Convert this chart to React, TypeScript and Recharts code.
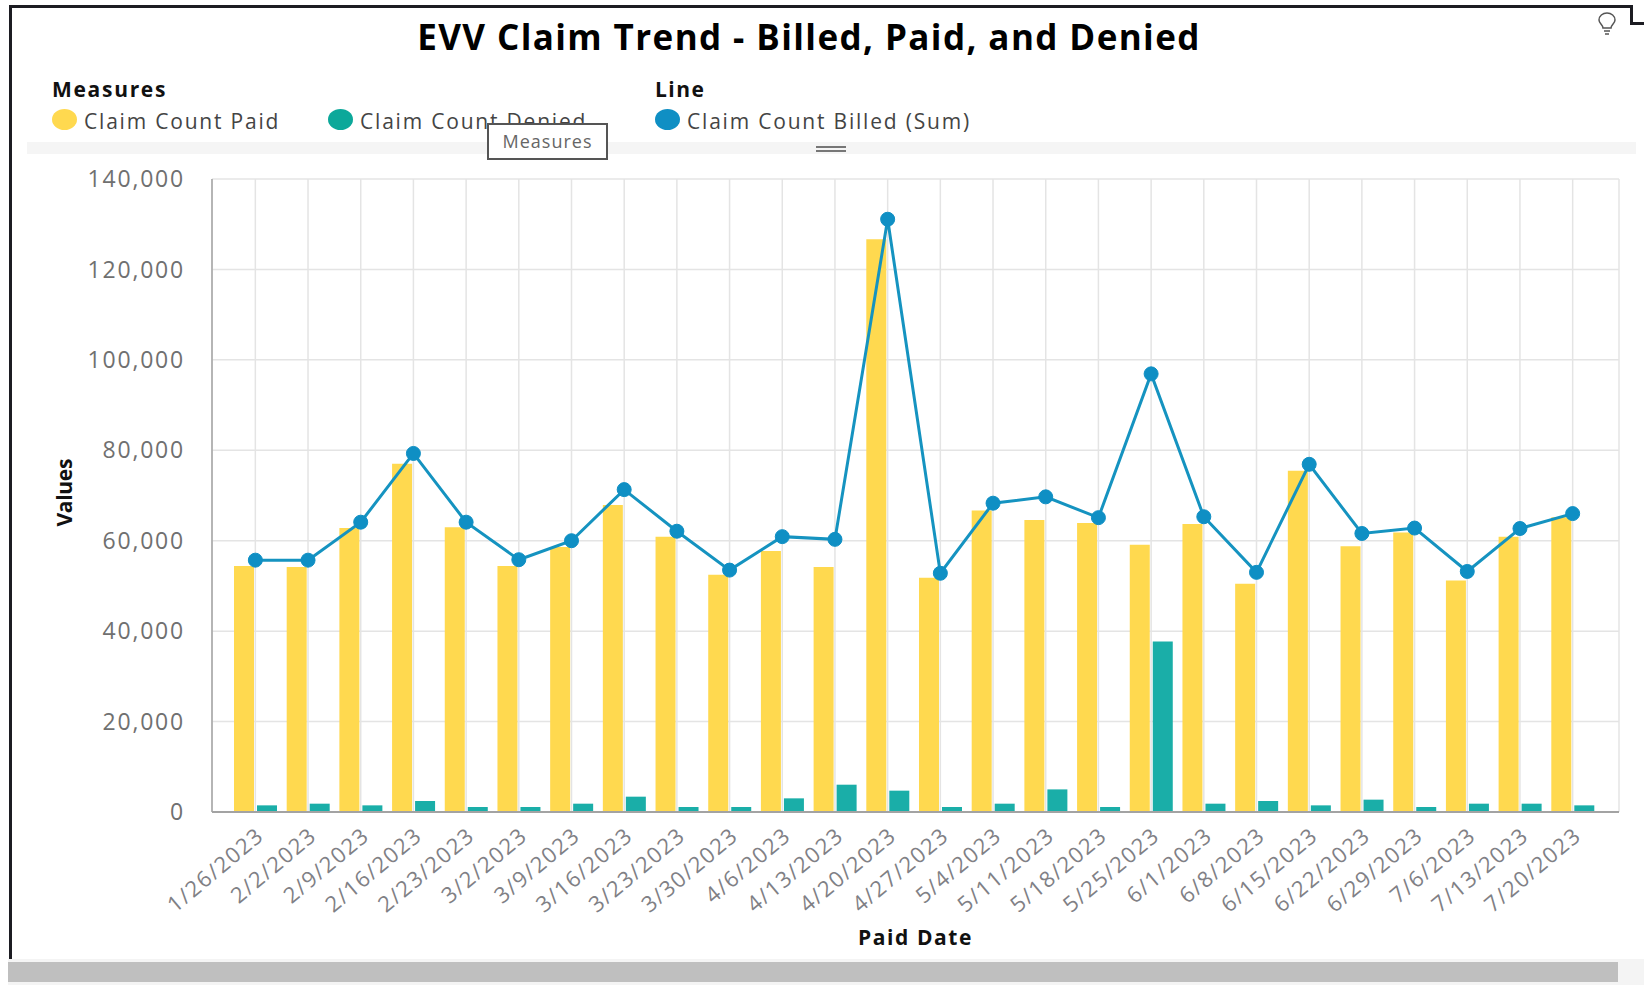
import { ComposedChart, Bar, Line, XAxis, YAxis, CartesianGrid } from 'recharts';

const dates = [
  '1/26/2023', '2/2/2023', '2/9/2023', '2/16/2023', '2/23/2023', '3/2/2023', '3/9/2023', '3/16/2023', '3/23/2023',
  '3/30/2023', '4/6/2023', '4/13/2023', '4/20/2023', '4/27/2023', '5/4/2023', '5/11/2023', '5/18/2023', '5/25/2023',
  '6/1/2023', '6/8/2023', '6/15/2023', '6/22/2023', '6/29/2023', '7/6/2023', '7/13/2023', '7/20/2023',
];
const paid = [
  54400, 54200, 62800, 77000, 63000, 54400, 58600, 67900, 60900, 52500, 57700, 54200, 126700, 51800, 66700, 64600,
  63900, 59100, 63700, 50500, 75500, 58800, 61800, 51200, 60900, 65200,
];
const denied = [
  1470, 1840, 1470, 2430, 1100, 1100, 1840, 3390, 1100, 1100, 3020, 6040, 4720, 1100, 1840, 5000, 1100, 37700, 1840,
  2430, 1470, 2730, 1100, 1840, 1840, 1470,
];
const billed = [
  55700, 55700, 64100, 79300, 64100, 55800, 60000, 71300, 62100, 53500, 60900, 60300, 131100, 52800, 68300, 69700,
  65100, 96900, 65300, 53000, 76900, 61600, 62800, 53200, 62700, 66000,
];
const yTicks = [0, 20000, 40000, 60000, 80000, 100000, 120000, 140000];

const data = dates.map((date, i) => ({ date, paid: paid[i], denied: denied[i], billed: billed[i] }));

const FONT = '"Open Sans", "Noto Sans", sans-serif';
const YELLOW = '#ffd94f';
const TEAL = '#1aaea8';
const BLUE = '#0f8fc4';

const box = (left: number, top: number, width: number, height: number, background: string): React.CSSProperties => ({
  position: 'absolute',
  left,
  top,
  width,
  height,
  background,
});

function LegendItem({ x, swatchX, color, label }: { x: number; swatchX: number; color: string; label: string }) {
  return (
    <>
      <div style={{ ...box(swatchX, 109, 25, 21, color), borderRadius: '50%' }} />
      <div style={{ position: 'absolute', left: x, top: 107, fontSize: 21, letterSpacing: 1.8, color: '#444', whiteSpace: 'nowrap' }}>{label}</div>
    </>
  );
}

export default function App() {
  return (
    <div style={{ position: 'absolute', left: 0, top: 0, width: 1644, height: 992, background: '#fff', fontFamily: FONT, overflow: 'hidden' }}>
      <ComposedChart
        width={1644}
        height={992}
        data={data}
        barSize={20}
        barGap={3}
        margin={{ top: 179, right: 25, bottom: 60, left: 112 }}
      >
        <CartesianGrid stroke="#e4e4e4" strokeWidth={1.5} />
        <XAxis
          dataKey="date"
          interval={0}
          height={120}
          padding={{ left: 17, right: 20 }}
          tickLine={false}
          axisLine={{ stroke: '#a3a3a3', strokeWidth: 2 }}
          angle={-40}
          textAnchor="end"
          tickMargin={8}
          tick={{ fill: '#808085', fontSize: 22, fontFamily: FONT, letterSpacing: 1.5 }}
          label={{ value: 'Paid Date', position: 'insideBottom', offset: 0, dy: 13, fill: '#111', fontSize: 21, fontWeight: 700, fontFamily: FONT, letterSpacing: 1.6 }}
        />
        <YAxis
          width={100}
          domain={[0, 140000]}
          ticks={yTicks}
          interval={0}
          tickLine={false}
          axisLine={{ stroke: '#a3a3a3', strokeWidth: 1.5 }}
          tickMargin={21}
          tickFormatter={(v: number) => v.toLocaleString('en-US')}
          tick={{ fill: '#707070', fontSize: 23, fontFamily: FONT, letterSpacing: 1.8 }}
          label={{ value: 'Values', angle: -90, position: 'insideLeft', dx: -52, dy: 31, fill: '#111', fontSize: 21, fontWeight: 700, fontFamily: FONT, letterSpacing: -0.3 }}
        />
        <Bar dataKey="paid" fill={YELLOW} isAnimationActive={false} />
        <Bar dataKey="denied" fill={TEAL} isAnimationActive={false} />
        <Line
          dataKey="billed"
          stroke="#1593c0"
          strokeWidth={3}
          dot={{ r: 7, fill: BLUE, stroke: BLUE, strokeWidth: 1 }}
          isAnimationActive={false}
        />
      </ComposedChart>

      <div style={{ position: 'absolute', left: 0, width: 1618, textAlign: 'center', top: 13, fontSize: 35, fontWeight: 700, letterSpacing: 1.4, color: '#000', whiteSpace: 'nowrap' }}>
        EVV Claim Trend - Billed, Paid, and Denied
      </div>

      <div style={{ position: 'absolute', left: 52, top: 75, fontSize: 21, fontWeight: 700, letterSpacing: 1.7, color: '#111' }}>Measures</div>
      <div style={{ position: 'absolute', left: 655, top: 75, fontSize: 21, fontWeight: 700, letterSpacing: 1.5, color: '#111' }}>Line</div>
      <LegendItem swatchX={52} x={84} color={YELLOW} label="Claim Count Paid" />
      <LegendItem swatchX={328} x={360} color="#0ca89a" label="Claim Count Denied" />
      <LegendItem swatchX={655} x={687} color={BLUE} label="Claim Count Billed (Sum)" />

      {/* strip under the legend and its drag handle */}
      <div style={box(27, 142, 1609, 12, '#f5f5f5')} />
      <div style={box(816, 146, 30, 2, '#777')} />
      <div style={box(816, 150, 30, 2, '#777')} />

      {/* hover label over the legend */}
      <div
        style={{
          ...box(487, 123, 121, 37, '#fff'),
          boxSizing: 'border-box',
          border: '2px solid #555',
          fontSize: 18,
          letterSpacing: 1,
          color: '#666',
          textAlign: 'center',
          lineHeight: '33px',
        }}
      >
        Measures
      </div>

      {/* window frame */}
      <div style={box(9, 5, 1623, 3, '#1c1c22')} />
      <div style={box(9, 5, 3, 954, '#1c1c22')} />
      <div style={box(1630, 5, 3, 19, '#1c1c22')} />
      <div style={box(1630, 22, 14, 3, '#1c1c22')} />

      {/* scrollbar */}
      <div style={box(8, 959, 1636, 26, '#f4f4f4')} />
      <div style={box(8, 962, 1610, 20, '#bfbfbf')} />

      <svg style={{ position: 'absolute', left: 1596, top: 12 }} width={22} height={24} viewBox="0 0 22 24">
        <path d="M7 16 C7 13 3 11.500 3 8 A8 7 0 0 1 19 8 C19 11.500 15 13 15 16 Z" fill="none" stroke="#555" strokeWidth={1.5} />
        <path d="M8 19 H14 M9 22 H13" stroke="#555" strokeWidth={1.5} />
      </svg>
    </div>
  );
}
